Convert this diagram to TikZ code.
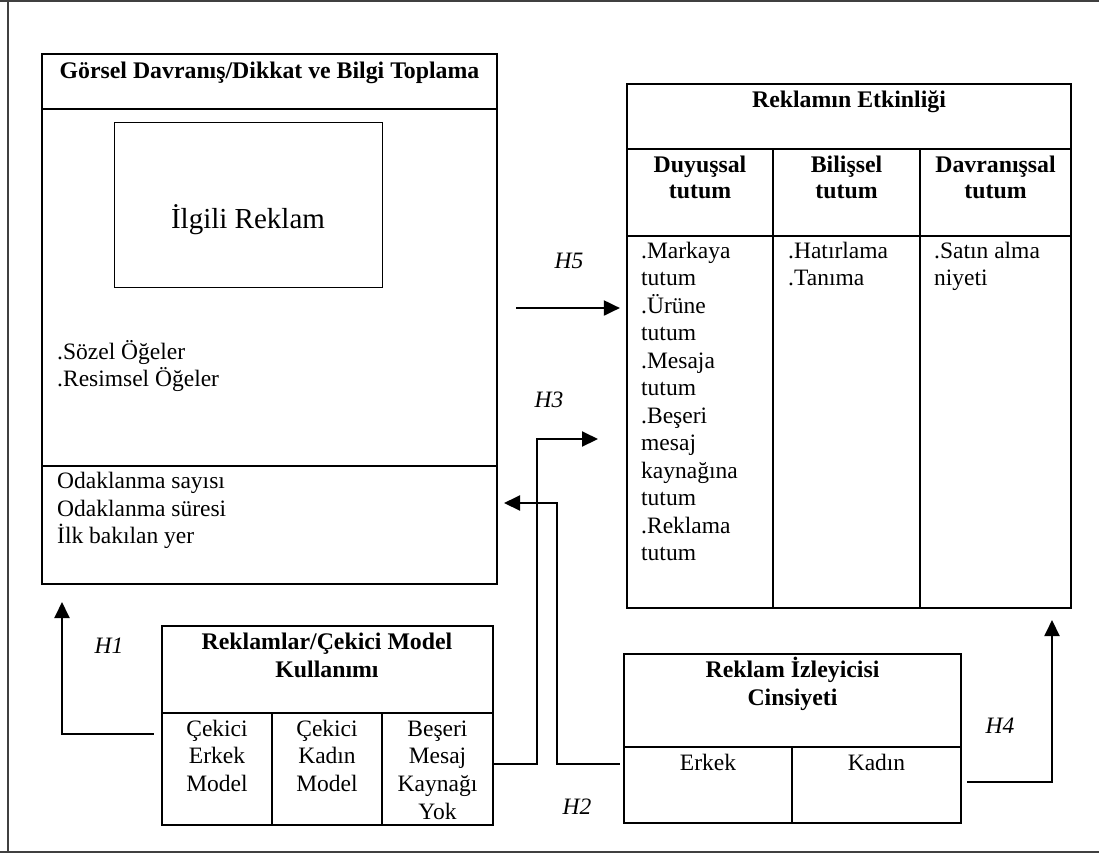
\documentclass[tikz,border=0pt]{standalone}
\usepackage{fontspec}
\setmainfont{Liberation Serif}
\usetikzlibrary{fit,arrows.meta}
\tikzset{
  box/.style={draw, line width=2.2pt, inner sep=0pt},
  thinbox/.style={draw, line width=1pt, inner sep=0pt},
  txt/.style={inner sep=0pt, font=\fontsize{23.5}{27.5}\selectfont},
  bold/.style={inner sep=0pt, font=\fontsize{23.8}{27.5}\selectfont\bfseries},
  hl/.style={inner sep=0pt, font=\fontsize{23.5}{27.5}\selectfont\itshape, anchor=base},
  big/.style={inner sep=0pt, font=\fontsize{29}{33}\selectfont},
  arr/.style={line width=2pt, -{Triangle[length=16pt,width=15pt]}},
  framest/.style={line width=2pt, black!75},
}
\begin{document}
\begin{tikzpicture}[x=1pt,y=-1pt]
\useasboundingbox (0,0) rectangle (1099,855);
% outer frame
\draw[framest] (0,1) -- (1099,1);
\draw[framest] (7.5,0) -- (7.5,852);
\draw[framest] (0,851.5) -- (1099,851.5);

% box 1
\node[box, fit={(42,54) (497,109)}] (g1h) {};
\node[box, fit={(42,109) (497,466)}] (g1m) {};
\node[box, fit={(42,466) (497,584)}] (g1b) {};
\node[thinbox, fit={(114,122) (382,287)}] (ilg) {};
\node[bold, anchor=base] (t1) at (269.5,78) {Görsel Davranış/Dikkat ve Bilgi Toplama};
\node[big, anchor=base] (t2) at (248,228) {İlgili Reklam};
\node[txt, anchor=base west] (t3) at (57,359) {.Sözel Öğeler};
\node[txt, anchor=base west] (t4) at (57,386) {.Resimsel Öğeler};
\node[txt, anchor=base west] (t5) at (57,488) {Odaklanma sayısı};
\node[txt, anchor=base west] (t6) at (57,516) {Odaklanma süresi};
\node[txt, anchor=base west] (t7) at (57,543) {İlk bakılan yer};

% effectiveness table
\node[box, fit={(627,84) (1071,149)}] (th) {};
\node[box, fit={(627,149) (773,236)}] (c1h) {};
\node[box, fit={(773,149) (920,236)}] (c2h) {};
\node[box, fit={(920,149) (1071,236)}] (c3h) {};
\node[box, fit={(627,236) (773,608)}] (c1b) {};
\node[box, fit={(773,236) (920,608)}] (c2b) {};
\node[box, fit={(920,236) (1071,608)}] (c3b) {};
\node[bold, anchor=base] (e0) at (849,107) {Reklamın Etkinliği};
\node[bold, anchor=base] (e1) at (700,172) {Duyuşsal};
\node[bold, anchor=base] (e2) at (700,198) {tutum};
\node[bold, anchor=base] (e3) at (846.5,172) {Bilişsel};
\node[bold, anchor=base] (e4) at (846.5,198) {tutum};
\node[bold, anchor=base] (e5) at (995.5,172) {Davranışsal};
\node[bold, anchor=base] (e6) at (995.5,198) {tutum};
\foreach \t [count=\i] in {.Markaya,tutum,.Ürüne,tutum,.Mesaja,tutum,.Beşeri,mesaj,kaynağına,tutum,.Reklama,tutum}
  \node[txt, anchor=base west] (a\i) at (641,{258+(\i-1)*27.5}) {\t};
\foreach \t [count=\i] in {.Hatırlama,.Tanıma}
  \node[txt, anchor=base west] (b\i) at (788,{258+(\i-1)*27.5}) {\t};
\foreach \t [count=\i] in {.Satın alma,niyeti}
  \node[txt, anchor=base west] (s\i) at (934,{258+(\i-1)*27.5}) {\t};

% model box
\node[box, fit={(162,626) (493,713)}] (mh) {};
\node[box, fit={(162,713) (272,825)}] (m1) {};
\node[box, fit={(272,713) (382,825)}] (m2) {};
\node[box, fit={(382,713) (493,825)}] (m3) {};
\node[bold, anchor=base] (mt1) at (327,649) {Reklamlar/Çekici Model};
\node[bold, anchor=base] (mt2) at (327,677) {Kullanımı};
\foreach \t [count=\i] in {Çekici,Erkek,Model}
  \node[txt, anchor=base] (p\i) at (217,{736+(\i-1)*27.7}) {\t};
\foreach \t [count=\i] in {Çekici,Kadın,Model}
  \node[txt, anchor=base] (q\i) at (327,{736+(\i-1)*27.7}) {\t};
\foreach \t [count=\i] in {Beşeri,Mesaj,Kaynağı,Yok}
  \node[txt, anchor=base] (r\i) at (437.5,{736+(\i-1)*27.7}) {\t};

% viewer gender box
\node[box, fit={(624,654) (961,747)}] (vh) {};
\node[box, fit={(624,747) (792,823)}] (v1) {};
\node[box, fit={(792,747) (961,823)}] (v2) {};
\node[bold, anchor=base] (vt1) at (792.5,677) {Reklam İzleyicisi};
\node[bold, anchor=base] (vt2) at (792.5,705) {Cinsiyeti};
\node[txt, anchor=base] (vt3) at (708,770) {Erkek};
\node[txt, anchor=base] (vt4) at (876.5,770) {Kadın};

% hypothesis labels
\node[hl] (h1) at (109,653) {H1};
\node[hl] (h2) at (577,814) {H2};
\node[hl] (h3) at (549,407) {H3};
\node[hl] (h4) at (1000,733) {H4};
\node[hl] (h5) at (569,268) {H5};

% connectors
\coordinate (h5s) at (516,308);
\draw[arr] (h5s) -- ([xshift=-6pt]h5s -| c1b.west);

\coordinate (h1c) at (62,734);
\coordinate (h1t) at (62,602);
\draw[arr] ([xshift=-7pt]m1.west |- h1c) -- (h1c) -- (h1t);

\coordinate (h3c) at (537,764);
\coordinate (h3e) at (598,439);
\draw[arr] (m3.east |- h3c) -- (h3c) |- (h3e);

\coordinate (h2c) at (557,764);
\coordinate (h2t) at (504,503);
\draw[arr] ([xshift=-3pt]v1.west |- h2c) -- (h2c) |- (h2t);

\coordinate (h4c) at (1052,782);
\coordinate (h4t) at (1052,620);
\draw[arr] ([xshift=5pt]v2.east |- h4c) -- (h4c) -- (h4t);
\end{tikzpicture}
\end{document}
